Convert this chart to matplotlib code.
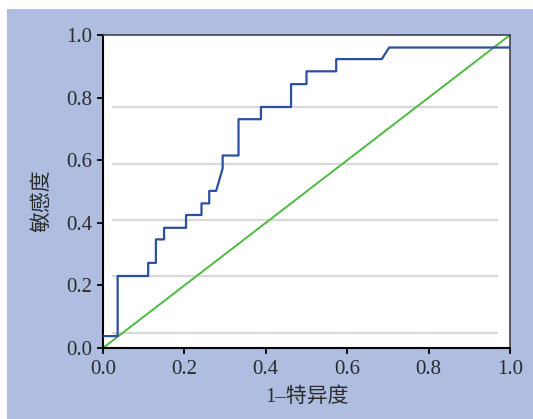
import matplotlib
matplotlib.use("Agg")
import matplotlib.pyplot as plt
from matplotlib.patches import Rectangle

# ROC curve (1-specificity, sensitivity)
fpr = [0, 0.036, 0.036, 0.111, 0.111, 0.130, 0.130, 0.150, 0.150, 0.204, 0.204,
       0.242, 0.242, 0.261, 0.261, 0.278, 0.294, 0.294, 0.333, 0.333, 0.388,
       0.388, 0.462, 0.462, 0.500, 0.500, 0.573, 0.573, 0.685, 0.703, 1.0]
tpr = [0.038, 0.038, 0.230, 0.230, 0.272, 0.272, 0.347, 0.347, 0.384, 0.384, 0.425,
       0.425, 0.462, 0.462, 0.502, 0.502, 0.574, 0.615, 0.615, 0.731, 0.731,
       0.770, 0.770, 0.843, 0.843, 0.884, 0.884, 0.923, 0.923, 0.960, 0.960]
ref_x = [0, 1]
ref_y = [0, 1]
grid_y = [0.048, 0.229, 0.409, 0.589, 0.770]
ticks = [0.0, 0.2, 0.4, 0.6, 0.8, 1.0]
tick_labels = ["0.0", "0.2", "0.4", "0.6", "0.8", "1.0"]
xlabel = "1\u2013特异度"
ylabel = "敏感度"

W, H = 533, 419
fig = plt.figure(figsize=(W / 100, H / 100), dpi=100, facecolor="white")
bg = "#aebde0"
fig.patches.append(Rectangle((7 / W, 0), 1 - 7 / W, 1 - 9 / H, transform=fig.transFigure,
                             facecolor=bg, edgecolor="none", zorder=-10))

ax = fig.add_axes([103 / W, 1 - 348 / H, (510 - 103) / W, (348 - 35) / H])
ax.set_zorder(5)
ax.set_facecolor("white")
ax.set_xlim(0, 1)
ax.set_ylim(0, 1)

for gy in grid_y:
    ax.plot([0.022, 0.97], [gy, gy], color="#d9d9d9", lw=1.6, zorder=1, solid_capstyle="butt")

ax.plot(ref_x, ref_y, color="#4dbb3f", lw=1.4, zorder=2)
ax.plot(fpr, tpr, color="#2b4fa3", lw=1.6, zorder=3)

serif = ["Liberation Serif", "DejaVu Serif"]
ax.set_xticks(ticks)
ax.set_yticks(ticks)
ax.set_xticklabels(tick_labels, fontfamily=serif, fontsize=15, color="#2a2a2a")
ax.set_yticklabels(tick_labels, fontfamily=serif, fontsize=15, color="#2a2a2a")
ax.tick_params(direction="out", length=4.5, width=1.3, color="black")
ax.tick_params(axis="y", pad=3.5)
ax.tick_params(axis="x", pad=4)

for s in ["left", "bottom"]:
    ax.spines[s].set_linewidth(1.5)
    ax.spines[s].set_color("black")
for s in ["top", "right"]:
    ax.spines[s].set_linewidth(1.2)
    ax.spines[s].set_color("#444444")

ax.set_xlabel(xlabel, fontfamily=["Liberation Serif", "Noto Sans CJK SC"], fontsize=15,
              fontweight="light", color="#2a2a2a", labelpad=6)
ax.set_ylabel(ylabel, fontfamily=["Noto Sans CJK SC"], fontsize=15, fontweight="light",
              color="#2a2a2a", labelpad=10)
ax.yaxis.set_label_coords(-0.125, 0.47)

fig.savefig("out.png", dpi=100, facecolor=fig.get_facecolor())
